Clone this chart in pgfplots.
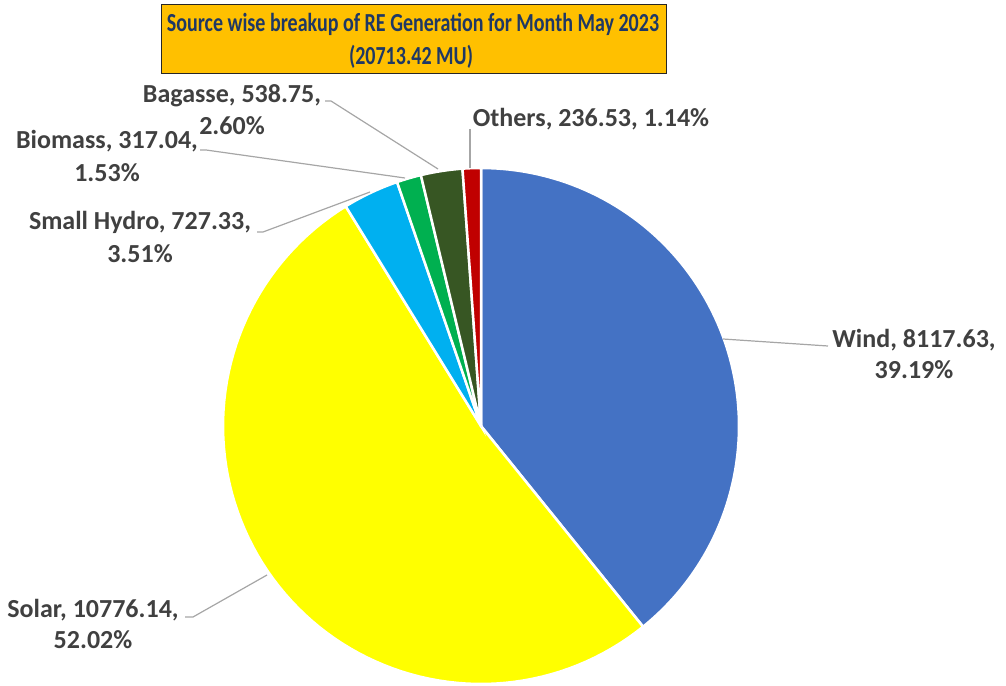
\documentclass[border=0pt]{standalone}
\usepackage{pgfplots}
\pgfplotsset{compat=1.18}
\usepackage{pgfplotstable}
\usepackage{fontspec}
\setmainfont{Carlito}
\newfontfamily\titlefont[FakeStretch=0.77]{Carlito}

\definecolor{c0}{HTML}{4472C4}
\definecolor{c1}{HTML}{FFFF00}
\definecolor{c2}{HTML}{00B0F0}
\definecolor{c3}{HTML}{00B050}
\definecolor{c4}{HTML}{375623}
\definecolor{c5}{HTML}{C00000}
\definecolor{titlefill}{HTML}{FFC000}
\definecolor{titletext}{HTML}{1F3864}
\definecolor{labeltext}{HTML}{404040}
\definecolor{leader}{HTML}{A6A6A6}

\pgfplotstableread{
label value
Wind 8117.63
Solar 10776.14
SmallHydro 727.33
Biomass 317.04
Bagasse 538.75
Others 236.53
}\pietable

\def\pietotal{0}
\pgfplotsforeachungrouped \i in {0,...,5}{%
  \pgfplotstablegetelem{\i}{value}\of\pietable
  \pgfmathsetmacro\pietotal{\pietotal+\pgfplotsretval/1000}%
}
\def\piecum{0}
\pgfplotsforeachungrouped \i in {0,...,5}{%
  \pgfplotstablegetelem{\i}{value}\of\pietable
  \pgfmathsetmacro\piesa{\piecum/\pietotal*360}%
  \pgfmathsetmacro\piecum{\piecum+\pgfplotsretval/1000}%
  \pgfmathsetmacro\pieea{\piecum/\pietotal*360}%
  \expandafter\xdef\csname pieS\i\endcsname{\piesa}%
  \expandafter\xdef\csname pieE\i\endcsname{\pieea}%
}

\tikzset{lbl/.style={font=\fontsize{26}{32}\selectfont\bfseries, text=labeltext, inner sep=0pt, anchor=base},
         ttl/.style={font=\titlefont\fontsize{26}{32}\selectfont\bfseries, text=titletext, inner sep=0pt, anchor=base}}

\begin{document}
\begin{tikzpicture}
\begin{axis}[scale only axis, width=1006pt, height=684pt,
  xmin=0, xmax=1006, ymin=0, ymax=684, y dir=reverse,
  hide axis, clip=false]
\path (axis cs:0,0) rectangle (axis cs:1006,684);
\pgfplotsforeachungrouped \i in {0,...,5}{%
  \edef\doslice{\noexpand\addplot[fill=c\i, draw=white, line width=2.5pt,
    domain=\csname pieS\i\endcsname:\csname pieE\i\endcsname, samples=90]
    ({481+258*sin(x)},{426-258*cos(x)}) -- (axis cs:481,426) -- cycle;}%
  \doslice
}
% leader lines
\addplot[leader, line width=1.2pt] coordinates {(470,129) (470,168)};
\addplot[leader, line width=1.2pt] coordinates {(325,101) (331,101) (438,169)};
\addplot[leader, line width=1.2pt] coordinates {(200,150) (206,150) (405,178)};
\addplot[leader, line width=1.2pt] coordinates {(257,232) (263,232) (370,192)};
\addplot[leader, line width=1.2pt] coordinates {(723,339) (828,346)};
\addplot[leader, line width=1.2pt] coordinates {(185,617) (193,617) (267,575)};
% labels
\node[lbl] at (axis cs:232,103) {Bagasse, 538.75,};
\node[lbl] at (axis cs:232,135) {2.60\%};
\node[lbl] at (axis cs:107,149) {Biomass, 317.04,};
\node[lbl] at (axis cs:107,182) {1.53\%};
\node[lbl] at (axis cs:140,230) {Small Hydro, 727.33,};
\node[lbl] at (axis cs:140,262) {3.51\%};
\node[lbl] at (axis cs:591,127) {Others, 236.53, 1.14\%};
\node[lbl] at (axis cs:914,347) {Wind, 8117.63,};
\node[lbl] at (axis cs:914,378) {39.19\%};
\node[lbl] at (axis cs:93,617) {Solar, 10776.14,};
\node[lbl] at (axis cs:93,648) {52.02\%};
% title
\node[draw=black!85, fill=titlefill, line width=1.5pt, minimum width=505pt, minimum height=69pt, inner sep=0pt] at (axis cs:414,39) {};
\node[ttl] at (axis cs:413,32) {Source wise breakup of RE Generation for Month May 2023};
\node[ttl] at (axis cs:411,65) {(20713.42 MU)};
\end{axis}
\end{tikzpicture}
\end{document}
